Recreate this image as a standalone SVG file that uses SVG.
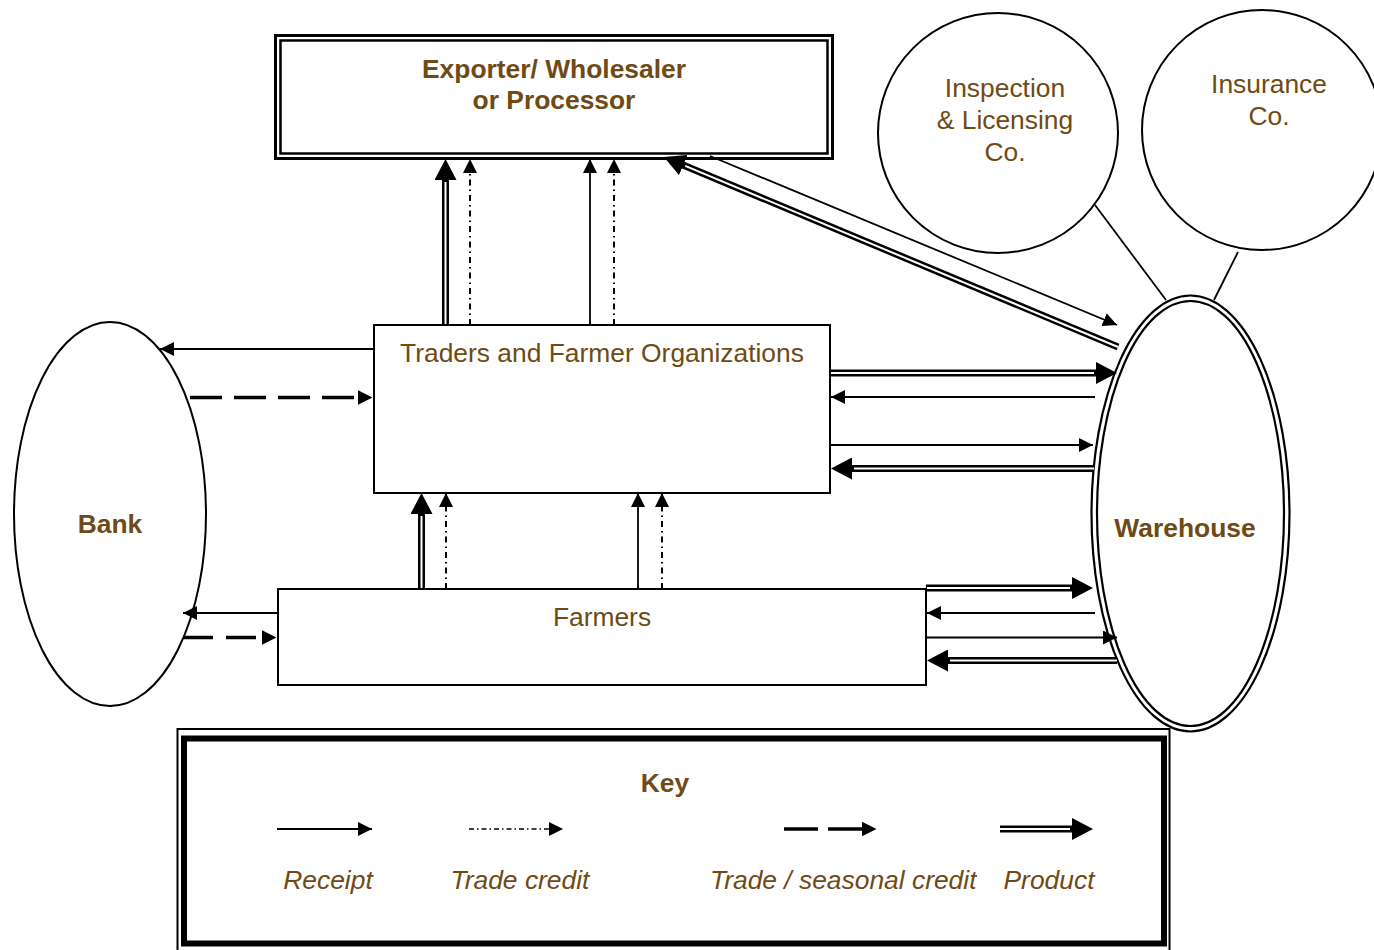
<svg xmlns="http://www.w3.org/2000/svg" width="1374" height="950" viewBox="0 0 1374 950">
<style>
.nd{fill:#fff;stroke:#000;stroke-width:2}
.t{font-family:"Liberation Sans",Arial,sans-serif;font-size:26.4px;fill:#704A14;text-anchor:middle}
.b{font-weight:bold}
.i{font-style:italic}
.r{fill:none;stroke:#000;stroke-width:1.8;marker-end:url(#arrS)}
.tc{fill:none;stroke:#000;stroke-width:2;stroke-dasharray:6 4 1.5 4;marker-end:url(#arrS)}
.dc{fill:none;stroke:#000;stroke-width:3.5;stroke-dasharray:32 12;marker-end:url(#arrB)}
.pO{fill:none;stroke:#000;stroke-width:7;marker-end:url(#arrP)}
.pI{fill:none;stroke:#fff;stroke-width:2}
.ln{fill:none;stroke:#000;stroke-width:1.8}
</style>
<defs>
<marker id="arrS" viewBox="0 0 14 14" refX="14" refY="7" markerWidth="14" markerHeight="14" markerUnits="userSpaceOnUse" orient="auto"><path d="M0,0 L14,7 L0,14 z" fill="#000"/></marker>
<marker id="arrB" viewBox="0 0 15 15" refX="0.5" refY="7.5" markerWidth="15" markerHeight="15" markerUnits="userSpaceOnUse" orient="auto"><path d="M0,0 L15,7.5 L0,15 z" fill="#000"/></marker>
<marker id="arrP" viewBox="0 0 21 22" refX="1" refY="11" markerWidth="21" markerHeight="22" markerUnits="userSpaceOnUse" orient="auto"><path d="M0,0 L21,11 L0,22 z" fill="#000"/></marker>
<clipPath id="clipKey"><rect x="600" y="850" width="377" height="60"/></clipPath>
</defs>
<rect width="1374" height="950" fill="#fff"/>

<g id="exporter">
<rect x="275.5" y="35.5" width="557" height="123" fill="#fff" stroke="#000" stroke-width="3"/>
<rect x="280.5" y="40.5" width="547" height="113" fill="none" stroke="#000" stroke-width="2.5"/>
<text class="t b" x="554" y="78">Exporter/ Wholesaler</text>
<text class="t b" x="554" y="109">or Processor</text>
</g>

<g id="traders">
<rect class="nd" x="374" y="325" width="456" height="168"/>
<text class="t" x="602" y="362">Traders and Farmer Organizations</text>
</g>

<g id="farmers">
<rect class="nd" x="278" y="589" width="648" height="96"/>
<text class="t" x="602" y="626">Farmers</text>
</g>

<g id="bank">
<ellipse class="nd" cx="110" cy="514" rx="96" ry="192"/>
<text class="t b" x="110" y="533">Bank</text>
</g>

<g id="warehouse">
<ellipse cx="1190.5" cy="513.5" rx="99" ry="218" fill="#fff" stroke="#000" stroke-width="2.2"/>
<ellipse cx="1190.5" cy="513.5" rx="93.5" ry="212.5" fill="none" stroke="#000" stroke-width="2.2"/>
<text class="t b" x="1185" y="537">Warehouse</text>
</g>

<g id="inspection">
<circle class="nd" cx="998" cy="133" r="120"/>
<text class="t" x="1005" y="97">Inspection</text>
<text class="t" x="1005" y="129">&amp; Licensing</text>
<text class="t" x="1005" y="161">Co.</text>
</g>

<g id="insurance">
<circle class="nd" cx="1262" cy="130" r="120"/>
<text class="t" x="1269" y="93">Insurance</text>
<text class="t" x="1269" y="125">Co.</text>
</g>

<g id="connectors">
<!-- product flows -->
<path class="pO" d="M445.5,325 V179"/><path class="pI" d="M445.5,324 V182"/>
<path class="pO" d="M421.5,589 V513"/><path class="pI" d="M421.5,588 V516"/>
<path class="pO" d="M830,373 H1097"/><path class="pI" d="M831,373 H1094"/>
<path class="pO" d="M1094,468.5 H851"/><path class="pI" d="M1094,468.5 H854"/>
<path class="pO" d="M926,588 H1073"/><path class="pI" d="M927,588 H1070"/>
<path class="pO" d="M1117,660.5 H947"/><path class="pI" d="M1117,660.5 H950"/>
<path class="pO" d="M1118,347 L682.4,164.7"/><path class="pI" d="M1118,347 L685.2,165.9"/>
<!-- receipts -->
<path class="r" d="M590,325 V159"/>
<path class="r" d="M638,589 V493"/>
<path class="r" d="M374,349 H160"/>
<path class="r" d="M278,613 H183"/>
<path class="r" d="M1095,397 H831"/>
<path class="r" d="M830,445 H1093"/>
<path class="r" d="M1095,613 H927"/>
<path class="r" d="M926,637.5 H1117"/>
<path class="r" d="M710,156 L1117,325"/>
<!-- trade credit -->
<path class="tc" d="M470,325 V159"/>
<path class="tc" d="M614,325 V159"/>
<path class="tc" d="M446,589 V493"/>
<path class="tc" d="M662,589 V493"/>
<!-- trade / seasonal credit -->
<path class="dc" d="M190,397.5 H358"/>
<path class="dc" d="M183,637.5 H262" style="stroke-dasharray:30 13"/>
<!-- links -->
<path class="ln" d="M1095,205 L1166,300"/>
<path class="ln" d="M1238,252 L1214,300"/>
</g>

<g id="key">
<rect x="177.5" y="729" width="992" height="240" fill="#fff" stroke="#000" stroke-width="2"/>
<rect x="184" y="738.5" width="980" height="205" fill="none" stroke="#000" stroke-width="6"/>
<text class="t b" x="665" y="792">Key</text>
<path class="r" d="M277,829 H372"/>
<path class="tc" d="M469,829 H563" style="stroke-width:1.5;stroke-dasharray:5 3 1.5 3"/>
<path class="dc" d="M784,829 H862" style="stroke-dasharray:34 10"/>
<path class="pO" d="M1000,829 H1073"/><path class="pI" d="M1000,829 H1070"/>
<text class="t i" x="328" y="889">Receipt</text>
<text class="t i" x="520" y="889">Trade credit</text>
<text class="t i" x="710" y="889" style="text-anchor:start" clip-path="url(#clipKey)">Trade / seasonal credit</text>
<text class="t i" x="1049" y="889">Product</text>
</g>
</svg>
